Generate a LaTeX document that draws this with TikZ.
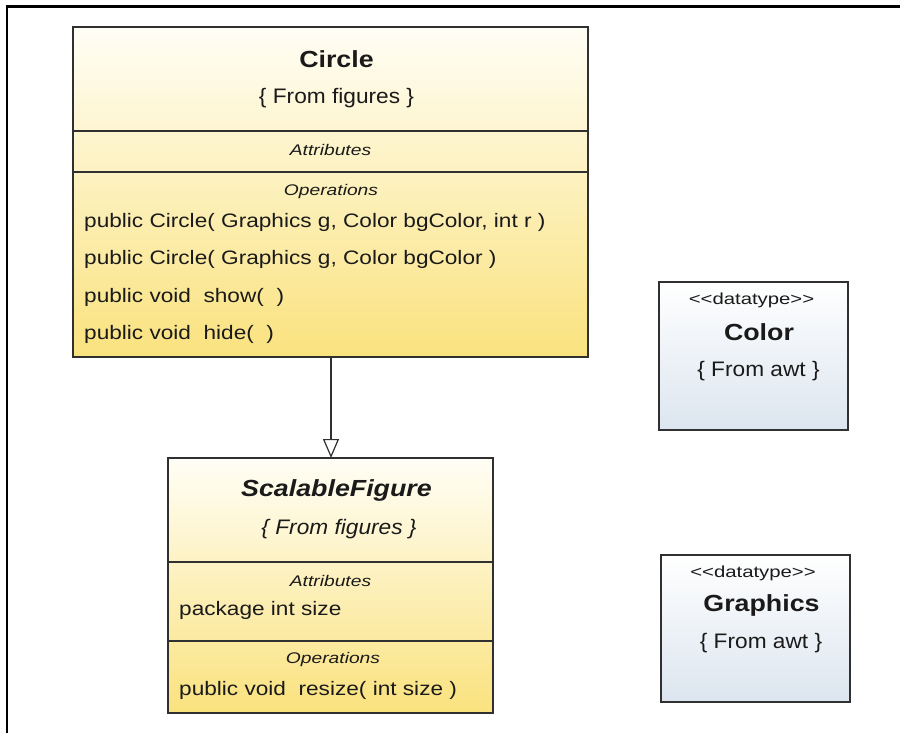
\documentclass[tikz,border=0pt]{standalone}
\usepackage{fontspec}
\setmainfont{Liberation Sans}
% widened faces for the different text roles
\newfontfamily\membfont[FakeStretch=1.16]{Liberation Sans}
\newfontfamily\titlefont[FakeStretch=1.15]{Liberation Sans}
\newfontfamily\secfont[FakeStretch=1.25]{Liberation Sans}
\newfontfamily\pkgfont[FakeStretch=1.08]{Liberation Sans}
\newfontfamily\stereofont[FakeStretch=1.27]{Liberation Sans}
\usetikzlibrary{arrows.meta}
\definecolor{classtop}{HTML}{FFFEF6}
\definecolor{classbot}{HTML}{FAE27E}
\definecolor{typetop}{HTML}{FFFFFF}
\definecolor{typebot}{HTML}{DCE5EF}
\definecolor{edge}{HTML}{303030}
\definecolor{ink}{HTML}{1A1A1A}
\tikzset{
  classbox/.style={draw=edge, line width=1.4pt, inner sep=0pt, outer sep=0pt,
    anchor=north west, top color=classtop, bottom color=classbot},
  typebox/.style={draw=edge, line width=1.4pt, inner sep=0pt, outer sep=0pt,
    anchor=north west, top color=typetop, bottom color=typebot},
  divider/.style={draw=edge, line width=1.2pt},
  titletxt/.style={font=\titlefont\fontsize{23.3}{26}\selectfont\bfseries, inner sep=0pt, text=ink},
  pkgtxt/.style={font=\pkgfont\fontsize{21}{23}\selectfont, inner sep=0pt, text=ink},
  sectxt/.style={font=\secfont\fontsize{15.4}{17}\selectfont\itshape, inner sep=0pt, text=ink},
  membertxt/.style={font=\membfont\fontsize{19.5}{21}\selectfont, inner sep=0pt, anchor=base west, text=ink},
  stereotxt/.style={font=\stereofont\fontsize{16}{18}\selectfont, inner sep=0pt, text=ink},
  generalization/.style={draw=edge, line width=1.2pt,
    -{Triangle[open, length=19pt, width=16pt, line width=1.2pt]}},
}
\newcommand{\stereotag}[1]{<\kern0pt<#1>\kern0pt>}
\begin{document}
\begin{tikzpicture}[x=1pt, y=-1pt]
\useasboundingbox (0,0) rectangle (900,733);
\fill[white] (0,0) rectangle (900,733);
% outer frame (top and left edges)
\draw[line width=2.6pt] (900,6.5) -- (7,6.5) -- (7,733);

% class Circle
\node[classbox, minimum width=515pt, minimum height=330pt] (circle) at (73,27) {};
\draw[divider] (73,131) -- (588,131);
\draw[divider] (73,172) -- (588,172);
\node[titletxt] (circlename) at (336.5,59) {Circle};
\node[pkgtxt] (circlepkg) at (336.5,98) {\{ From figures \}};
\node[sectxt] (circleattr) at (330.5,150) {Attributes};
\node[sectxt] (circleops) at (331,192) {Operations};
\node[membertxt] (op1) at (84,227) {public Circle( Graphics g, Color bgColor, int r )};
\node[membertxt] (op2) at (84,264) {public Circle( Graphics g, Color bgColor )};
\node[membertxt] (op3) at (84,302) {public void\ \ show(\ \ )};
\node[membertxt] (op4) at (84,339) {public void\ \ hide(\ \ )};

% class ScalableFigure
\node[classbox, minimum width=325pt, minimum height=255pt] (scalable) at (168,458) {};
\draw[divider] (168,562) -- (493,562);
\draw[divider] (168,641) -- (493,641);
\node[titletxt, font=\titlefont\fontsize{23.3}{26}\selectfont\bfseries\itshape] (scalname) at (336.5,490) {ScalableFigure};
\node[pkgtxt, font=\pkgfont\fontsize{21}{23}\selectfont\itshape] (scalpkg) at (339,529) {\{ From figures \}};
\node[sectxt] (scalattr) at (330.5,581) {Attributes};
\node[membertxt] (attr1) at (179,615) {package int size};
\node[sectxt] (scalops) at (333,660) {Operations};
\node[membertxt] (op5) at (179,695) {public void\ \ resize( int size )};

% datatype Color
\node[typebox, minimum width=189pt, minimum height=148pt] (color) at (659,282) {};
\node[stereotxt] (colorst) at (751.5,300) {\stereotag{datatype}};
\node[titletxt] (colorname) at (759,332) {Color};
\node[pkgtxt] (colorpkg) at (758.5,371) {\{ From awt \}};

% datatype Graphics
\node[typebox, minimum width=189pt, minimum height=147pt] (graphics) at (661,555) {};
\node[stereotxt] (graphst) at (753,573) {\stereotag{datatype}};
\node[titletxt] (graphname) at (761.5,605) {Graphics};
\node[pkgtxt] (graphpkg) at (761,643) {\{ From awt \}};

% generalization Circle -> ScalableFigure
\draw[generalization] (circle.south -| 331,0) -- (scalable.north -| 331,0);
\end{tikzpicture}
\end{document}
